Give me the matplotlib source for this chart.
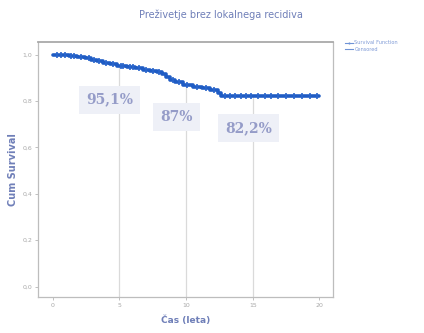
import matplotlib
matplotlib.use("Agg")
import matplotlib.pyplot as plt
from matplotlib.lines import Line2D

# Kaplan-Meier step data (years, cumulative survival)
event_times = [0.0, 1.2, 1.8, 2.4, 2.9, 3.3, 3.8, 4.3, 4.8, 5.6, 6.2, 6.8, 7.3, 7.8,
               8.2, 8.5, 8.8, 9.2, 9.8, 10.5, 11.2, 11.8, 12.4, 12.6]
survival = [1.0, 0.995, 0.990, 0.984, 0.978, 0.972, 0.966, 0.960, 0.951, 0.946, 0.941,
            0.936, 0.931, 0.926, 0.915, 0.904, 0.893, 0.882, 0.870, 0.862, 0.855,
            0.848, 0.835, 0.822]
end_time = 20.0

# Censored observations (years)
censor_times = [0.3, 0.6, 0.9, 1.4, 1.6, 2.1, 2.7, 3.1, 3.5, 4.0, 4.5, 5.1, 5.3, 5.8,
                6.0, 6.5, 7.0, 7.5, 8.0, 9.0, 9.5, 10.1, 10.8, 11.5, 12.1, 12.9,
                13.3, 13.7, 14.1, 14.5, 14.9, 15.4, 15.9, 16.4, 16.9, 17.5, 18.1,
                18.7, 19.3, 19.8]

# Annotated survival estimates
mark_years = [5, 10, 15]
mark_labels = ["95,1%", "87%", "82,2%"]
mark_label_pos = [(4.27, 0.806), (9.29, 0.733), (14.7, 0.685)]

title_text = "Preživetje brez lokalnega recidiva"
x_label = "Čas (leta)"
y_label = "Cum Survival"
x_ticks = [0, 5, 10, 15, 20]
y_ticks = [0.0, 0.2, 0.4, 0.6, 0.8, 1.0]
y_tick_labels = ["0,0", "0,2", "0,4", "0,6", "0,8", "1,0"]
legend_labels = ["Survival Function", "Censored"]


def surv_at(t):
    s = survival[0]
    for et, sv in zip(event_times, survival):
        if et <= t:
            s = sv
    return s


fig = plt.figure(figsize=(4.24, 3.33), dpi=100)
ax = fig.add_axes([0.0896, 0.108, 0.6954, 0.766])

text_col = "#6f7fb8"
line_col = "#1f5cc4"
grid_col = "#dadada"

# drop lines at the reported years
for yr in mark_years:
    ax.plot([yr, yr], [-0.045, surv_at(yr)], color=grid_col, lw=0.9, zorder=1)

# survival step curve
xs = list(event_times) + [end_time]
ys = list(survival) + [survival[-1]]
ax.step(xs, ys, where="post", color=line_col, lw=2.6, zorder=3,
        solid_capstyle="round")
ax.plot(censor_times, [surv_at(t) for t in censor_times], linestyle="none",
        marker="|", markersize=4, mew=1.2, color="#2a66cc", zorder=4)

for lab, (lx, ly) in zip(mark_labels, mark_label_pos):
    ax.text(lx, ly, lab, ha="center", va="center", fontsize=10,
            family="DejaVu Serif", fontweight="bold", color="#959cc8",
            zorder=5,
            bbox=dict(boxstyle="square,pad=0.5", facecolor="#eef0f7",
                      edgecolor="none"))

ax.set_xlim(-1.1, 21.0)
ax.set_ylim(-0.045, 1.055)
ax.set_xticks(x_ticks)
ax.set_yticks(y_ticks)
ax.set_yticklabels(y_tick_labels)
ax.tick_params(axis="both", labelsize=4.5, colors="#b5b5b5", length=2,
               width=0.6, labelcolor="#a8a8a8", pad=2)
for side, sp in ax.spines.items():
    sp.set_color("#bdbdbd")
    sp.set_linewidth(0.9)
ax.spines["top"].set_color("#a9a9a9")
ax.spines["top"].set_linewidth(1.3)

ax.set_xlabel(x_label, fontsize=6.5, color=text_col, fontweight="bold",
              labelpad=6)
ax.set_ylabel(y_label, fontsize=7, color=text_col, fontweight="bold",
              labelpad=3)
fig.text(0.52, 0.955, title_text, ha="center", va="center", fontsize=7,
         color=text_col)

handles = [Line2D([0], [0], color="#6f93d6", lw=0.8, marker="|", markersize=2),
           Line2D([0], [0], color="#6f93d6", lw=0.8)]
fig.legend(handles, legend_labels, loc="upper left",
           bbox_to_anchor=(0.81, 0.885), fontsize=3.6, frameon=False,
           handlelength=1.5, handletextpad=0.3, labelspacing=0.3,
           labelcolor="#7f9ad6", borderaxespad=0)

fig.savefig("out.png", dpi=100, facecolor="white")
